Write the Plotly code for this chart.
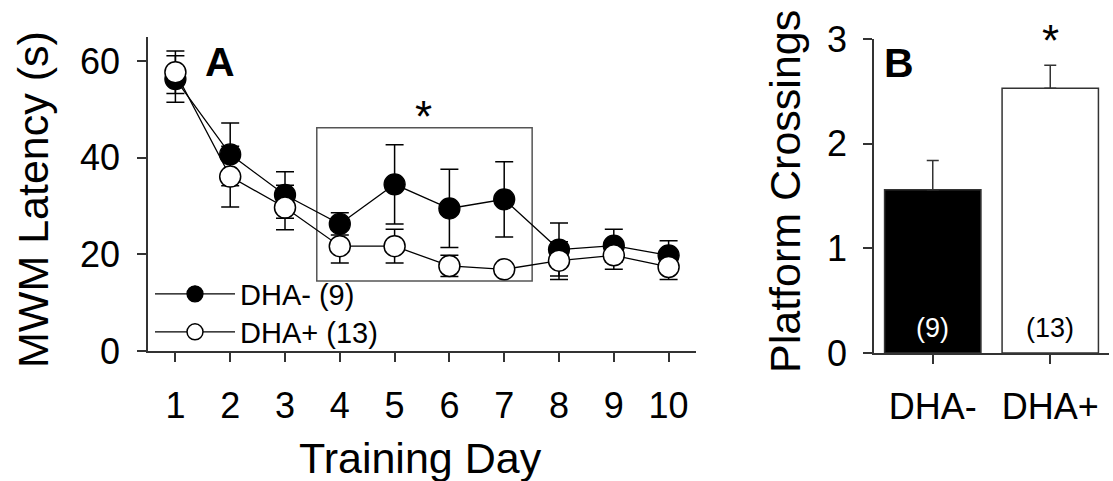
import plotly.graph_objects as go

# ---- Data: Panel A (MWM latency by training day) ----
days = [1, 2, 3, 4, 5, 6, 7, 8, 9, 10]
dha_minus = [56.3, 40.7, 32.3, 26.3, 34.5, 29.5, 31.4, 21.0, 21.8, 19.8]
dha_minus_err = [4.8, 6.5, 4.8, 2.3, 8.2, 8.1, 7.8, 5.5, 3.4, 3.0]
dha_plus = [57.7, 36.1, 29.7, 21.7, 21.7, 17.6, 16.9, 18.7, 19.8, 17.4]
dha_plus_err = [4.4, 6.3, 4.6, 3.5, 3.5, 2.2, 1.0, 3.9, 2.9, 2.6]
legend_names = ["DHA- (9)", "DHA+ (13)"]

# ---- Data: Panel B (platform crossings) ----
groups = ["DHA-", "DHA+"]
crossings = [1.56, 2.53]
crossings_err = [0.28, 0.22]
group_n = ["(9)", "(13)"]

FONT = "Liberation Sans, Arial, Helvetica, sans-serif"
AX = "#333333"
W, H = 1113, 481


def px(x):
    return x / W


def py(y):
    return 1 - y / H


fig = go.Figure()

fig.add_trace(go.Scatter(
    x=days, y=dha_minus, name=legend_names[0], mode="lines+markers",
    line=dict(color="black", width=1.3),
    marker=dict(size=21, color="black", line=dict(color="black", width=1.3)),
    error_y=dict(type="data", array=dha_minus_err, color="black", thickness=1.5, width=9),
    xaxis="x", yaxis="y", legend="legend",
))
fig.add_trace(go.Scatter(
    x=days, y=dha_plus, name=legend_names[1], mode="lines+markers",
    line=dict(color="black", width=1.3),
    marker=dict(size=21, color="white", line=dict(color="black", width=1.5)),
    error_y=dict(type="data", array=dha_plus_err, color="black", thickness=1.5, width=9),
    xaxis="x", yaxis="y", legend="legend2",
))

fig.add_trace(go.Bar(
    x=groups, y=crossings, width=0.82, showlegend=False,
    marker=dict(color=["black", "white"], line=dict(color=AX, width=1.5)),
    error_y=dict(type="data", array=crossings_err, symmetric=False,
                 arrayminus=[0, 0], color=AX, thickness=1.5, width=6),
    xaxis="x2", yaxis="y2",
))

axis_common = dict(
    showline=True, linecolor=AX, linewidth=1.5, ticks="outside", ticklen=9,
    tickwidth=1.5, tickcolor=AX, showgrid=False, zeroline=False,
    tickfont=dict(family=FONT, size=36, color="black"),
)

legend_common = dict(xanchor="left", yanchor="middle", bgcolor="rgba(0,0,0,0)",
                     borderwidth=0, font=dict(family=FONT, size=29, color="black"),
                     itemwidth=80)

fig.update_layout(
    width=W, height=H,
    margin=dict(l=0, r=0, t=0, b=0, autoexpand=False),
    paper_bgcolor="white", plot_bgcolor="white",
    font=dict(family=FONT, color="black"),
    xaxis=dict(domain=[px(148), px(696)], range=[0.5, 10.5], tickvals=days,
               anchor="y", ticklabelstandoff=13, automargin=False, **axis_common),
    yaxis=dict(domain=[py(351), py(37)], range=[0, 65], tickvals=[0, 20, 40, 60],
               anchor="x", ticklabelstandoff=10, automargin=False, **axis_common),
    xaxis2=dict(domain=[px(874), px(1109)], range=[-0.5, 1.5], type="category",
                anchor="y2", ticklabelstandoff=12, automargin=False, **axis_common),
    yaxis2=dict(domain=[py(353), py(39)], range=[0, 3], tickvals=[0, 1, 2, 3],
                anchor="x2", ticklabelstandoff=9, automargin=False, **axis_common),
    showlegend=True,
    legend=dict(x=px(150), y=py(294), **legend_common),
    legend2=dict(x=px(150), y=py(332), **legend_common),
)

# significance box in panel A
fig.add_shape(type="rect", xref="x", yref="y", x0=3.58, x1=7.51, y0=14.5, y1=46.2,
              line=dict(color="#555555", width=1.5), fillcolor="rgba(0,0,0,0)", layer="below")

annots = [
    dict(text="<b>A</b>", x=1.81, y=59.8, xref="x", yref="y", size=41),
    dict(text="*", x=5.53, y=48.6, xref="x", yref="y", size=44),
    dict(text="<b>B</b>", x=-0.29, y=2.77, xref="x2", yref="y2", size=41),
    dict(text="*", x=groups[1], y=2.99, xref="x2", yref="y2", size=44),
]
for a in annots:
    fig.add_annotation(text=a["text"], x=a["x"], y=a["y"], xref=a["xref"], yref=a["yref"],
                       xanchor="center", yanchor="middle", showarrow=False,
                       font=dict(family=FONT, size=a["size"], color="black"))

fig.add_annotation(text=group_n[0], x=groups[0], y=0.24, xref="x2", yref="y2", showarrow=False,
                   xanchor="center", yanchor="middle",
                   font=dict(family=FONT, size=27, color="white"))
fig.add_annotation(text=group_n[1], x=groups[1], y=0.24, xref="x2", yref="y2", showarrow=False,
                   xanchor="center", yanchor="middle",
                   font=dict(family=FONT, size=27, color="black"))

# axis titles
title_font = dict(family=FONT, size=43, color="black")
fig.add_annotation(text="MWM Latency (s)", x=px(33), y=py(200), xref="paper", yref="paper",
                   xanchor="center", yanchor="middle",
                   textangle=-90, showarrow=False, font=title_font)
fig.add_annotation(text="Training Day", x=px(420), y=py(458), xref="paper", yref="paper",
                   xanchor="center", yanchor="middle",
                   showarrow=False, font=title_font)
fig.add_annotation(text="Platform Crossings", x=px(785), y=py(192), xref="paper", yref="paper",
                   xanchor="center", yanchor="middle",
                   textangle=-90, showarrow=False, font=title_font)

fig.write_html("out.html", config={"displayModeBar": False},
               post_script="document.body.style.margin='0';")
